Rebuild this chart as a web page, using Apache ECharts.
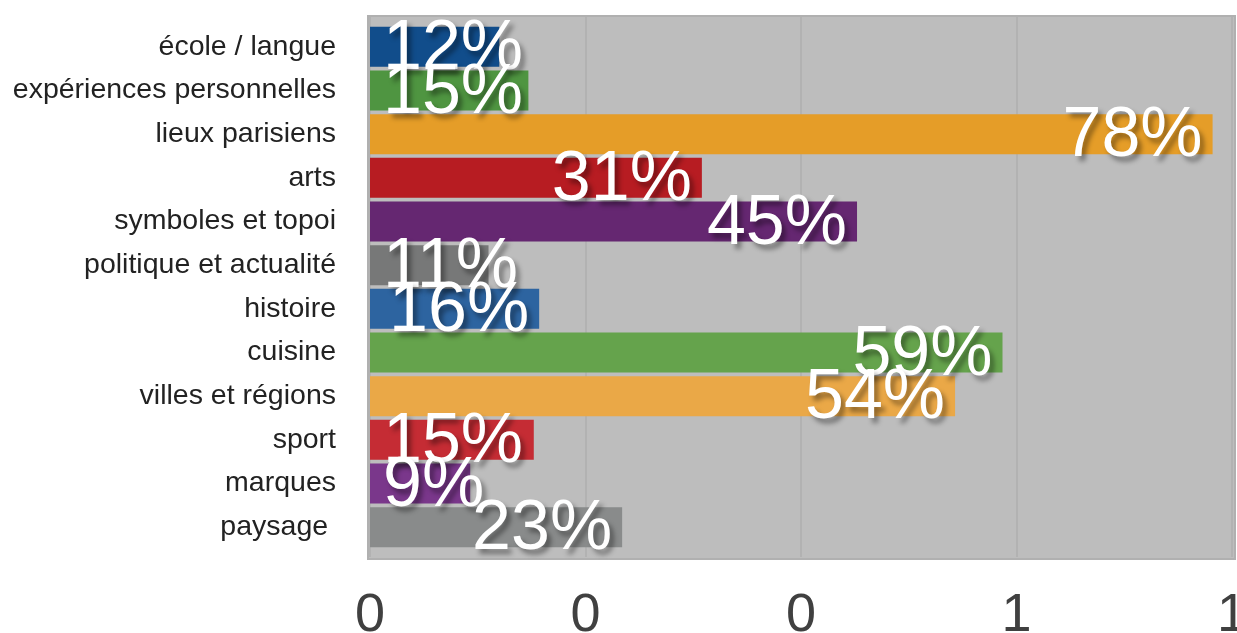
<!DOCTYPE html>
<html>
<head>
<meta charset="utf-8">
<script src="https://cdn.jsdelivr.net/npm/echarts@6/dist/echarts.min.js"></script>
<style>html,body{margin:0;padding:0;background:#fff;}#c{width:1237px;height:633px;}</style>
</head>
<body>
<div id="c"></div>
<script>
var categories = ['école / langue','expériences personnelles','lieux parisiens','arts','symboles et topoi','politique et actualité','histoire','cuisine','villes et régions','sport','marques','paysage '];
var values = [0.12, 0.147, 0.782, 0.308, 0.452, 0.11, 0.157, 0.587, 0.543, 0.152, 0.093, 0.234];
var labels = ['12%','15%','78%','31%','45%','11%','16%','59%','54%','15%','9%','23%'];
var colors = ['#114d8b','#4f9541','#e59d28','#b71c22','#652771','#777878','#2d64a0','#65a34c','#eaa847','#c52c34','#7a378b','#898b8b'];
var xTicks = [0, 0.2, 0.4, 0.6, 0.8];

var FONT = 'Arial, "Liberation Sans", sans-serif';
var chart = echarts.init(document.getElementById('c'), null, {renderer:'canvas'});
var data = values.map(function(v, i){
  var short = v < 0.155;
  return {
    value: v,
    itemStyle: {color: colors[i]},
    label: {
      position: short ? 'insideLeft' : 'insideRight',
      distance: short ? 13 : 10,
      formatter: labels[i]
    }
  };
});
chart.setOption({
  animation: false,
  grid: [
    {left: 368, right: 2, top: 16, bottom: 74, show: true, backgroundColor: '#bdbdbd', borderColor: '#b0b0b0', borderWidth: 2, outerBoundsMode: 'none', containLabel: false},
    {left: 370, right: 5, top: 17, bottom: 76, outerBoundsMode: 'none', containLabel: false},
    {left: 370, right: 5, top: 25, bottom: 84, outerBoundsMode: 'none', containLabel: false}
  ],
  xAxis: [
    {gridIndex: 0, type: 'value', min: 0, max: 1, show: false},
    {gridIndex: 1, type: 'value', min: xTicks[0], max: xTicks[xTicks.length-1], interval: 0.2,
     axisLine: {show: false}, axisTick: {show: false},
     splitLine: {show: true, lineStyle: {color: '#b2b2b2', width: 2}},
     axisLabel: {margin: 32, fontSize: 54, color: '#404040', fontFamily: FONT,
       formatter: function(v){ return String(Math.round(v)); }}},
    {gridIndex: 2, type: 'value', min: xTicks[0], max: xTicks[xTicks.length-1], show: false}
  ],
  yAxis: [
    {gridIndex: 0, type: 'value', min: 0, max: 1, show: false},
    {gridIndex: 1, type: 'value', min: 0, max: 1, show: false},
    {gridIndex: 2, type: 'category', data: categories, inverse: true,
     axisLine: {show: false}, axisTick: {show: false}, splitLine: {show: false},
     axisLabel: {margin: 34, fontSize: 28.5, color: '#222222', fontFamily: FONT}}
  ],
  series: [{
    type: 'bar',
    xAxisIndex: 2,
    yAxisIndex: 2,
    data: data,
    barWidth: 40,
    label: {
      show: true,
      color: '#ffffff',
      fontSize: 70,
      fontFamily: FONT,
      offset: [0, 3],
      textBorderWidth: 0,
      textBorderColor: 'transparent',
      textShadowColor: 'rgba(0,0,0,0.4)',
      textShadowBlur: 5,
      textShadowOffsetX: 4,
      textShadowOffsetY: 5
    }
  }]
});
</script>
</body>
</html>
